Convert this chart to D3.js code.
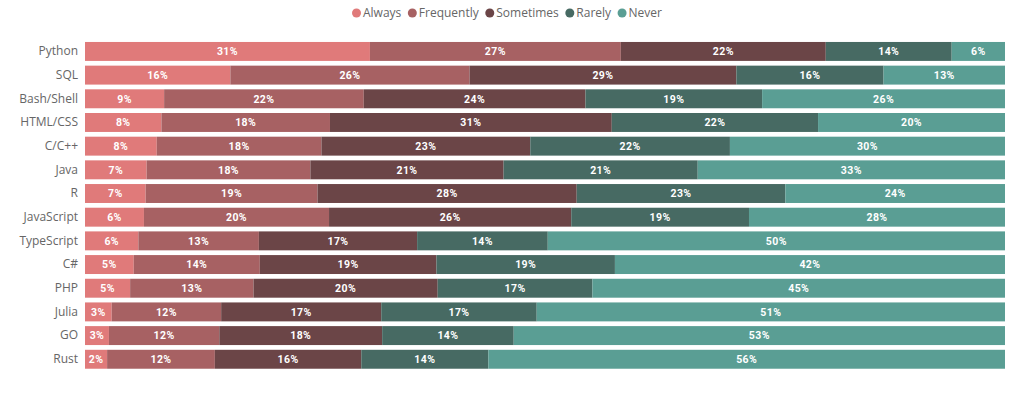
<!DOCTYPE html>
<html>
  <head>
    <meta charset="utf-8">
    <title>Language usage frequency</title>
    <script src="https://d3js.org/d3.v7.min.js"></script>
    <style>
      body { margin: 0; background: #fff; }
      .cat { font-family: "Segoe UI", "Open Sans", sans-serif; font-size: 12px; fill: #666; }
      .legend text { font-family: "Segoe UI", "Open Sans", sans-serif; font-size: 12px; fill: #666; }
      .val { font-family: Roboto, "DejaVu Sans", sans-serif; font-size: 10.5px; font-weight: 700; fill: #fff; letter-spacing: 0.4px; }
    </style>
  </head>
  <body>
    <div id="chart"></div>
    <script>
      // data (percent of respondents)
      var languages = ["Python", "SQL", "Bash/Shell", "HTML/CSS", "C/C++", "Java", "R", "JavaScript",
                       "TypeScript", "C#", "PHP", "Julia", "GO", "Rust"];
      var series = ["Always", "Frequently", "Sometimes", "Rarely", "Never"];
      var always     = [31.0, 15.8,  8.6,  8.3,  7.8,  6.7,  6.6,  6.4,  5.8,  5.3,  4.9,  2.9,  2.6,  2.4];
      var frequently = [27.3, 26.0, 21.7, 18.3, 17.9, 17.8, 18.7, 20.1, 13.1, 13.7, 13.4, 11.9, 12.0, 11.7];
      var sometimes  = [22.3, 29.0, 24.1, 30.6, 22.7, 21.0, 28.2, 26.3, 17.2, 19.2, 20.0, 17.4, 17.7, 15.9];
      var rarely     = [13.7, 16.0, 19.2, 22.4, 21.7, 21.1, 22.7, 19.3, 14.2, 19.4, 16.8, 16.9, 14.3, 13.8];
      var never      = [ 5.8, 13.2, 26.4, 20.3, 29.9, 33.4, 23.9, 27.8, 49.7, 42.4, 44.8, 50.9, 53.4, 56.1];
      var colors = ["#E07A7A", "#A76163", "#6B4547", "#476A63", "#5A9E94"];

      var table = languages.map(function(l, i) {
        return { lang: l, Always: always[i], Frequently: frequently[i], Sometimes: sometimes[i],
                 Rarely: rarely[i], Never: never[i] };
      });

      var width = 1024, height = 397;
      var svg = d3.select("#chart").append("svg")
        .attr("width", width).attr("height", height);

      var x = d3.scaleLinear().domain([0, 1]).range([85, 1005]);
      var y = d3.scaleBand().domain(languages).range([39.6, 371.1])
        .paddingInner(0.2).paddingOuter(0.1);
      var color = d3.scaleOrdinal().domain(series).range(colors);

      var stacked = d3.stack().keys(series).offset(d3.stackOffsetExpand)(table);

      var layer = svg.selectAll(".layer")
        .data(stacked)
        .enter().append("g")
        .attr("class", "layer")
        .attr("fill", function(d) { return color(d.key); });

      layer.selectAll("rect")
        .data(function(d) { return d; })
        .enter().append("rect")
        .attr("x", function(d) { return x(d[0]); })
        .attr("y", function(d) { return y(d.data.lang); })
        .attr("width", function(d) { return x(d[1]) - x(d[0]); })
        .attr("height", y.bandwidth());

      layer.selectAll("text")
        .data(function(d) { return d.map(function(p) { p.key = d.key; return p; }); })
        .enter().append("text")
        .attr("class", "val")
        .attr("x", function(d) { return (x(d[0]) + x(d[1])) / 2; })
        .attr("y", function(d) { return y(d.data.lang) + y.bandwidth() / 2; })
        .attr("dy", "0.36em")
        .attr("text-anchor", "middle")
        .text(function(d) { return Math.round(d.data[d.key]) + "%"; });

      // category axis
      var yAxis = svg.append("g")
        .attr("transform", "translate(78,0)")
        .call(d3.axisLeft(y).tickSize(0).tickPadding(0));
      yAxis.select(".domain").remove();
      yAxis.selectAll("text").attr("class", "cat").attr("font-size", null).attr("font-family", null);

      // legend, centred above the chart
      var legend = svg.append("g").attr("class", "legend");
      var item = legend.selectAll("g")
        .data(series)
        .enter().append("g");
      item.append("circle").attr("r", 4.5).attr("cy", 13)
        .attr("fill", function(d) { return color(d); });
      item.append("text").attr("x", 6.5).attr("y", 13).attr("dy", "0.35em")
        .text(function(d) { return d; });
      var pos = 0, lw = 0;
      item.each(function() {
        var w = this.querySelector("text").getComputedTextLength();
        d3.select(this).attr("transform", "translate(" + pos + ",0)");
        lw = pos + 6.5 + w;
        pos += 6.5 + w + 11;
      });
      // left edge of first circle is at -4.5
      legend.attr("transform", "translate(" + (507 - (lw + 4.5) / 2 + 4.5) + ",0)");
    </script>
  </body>
</html>
